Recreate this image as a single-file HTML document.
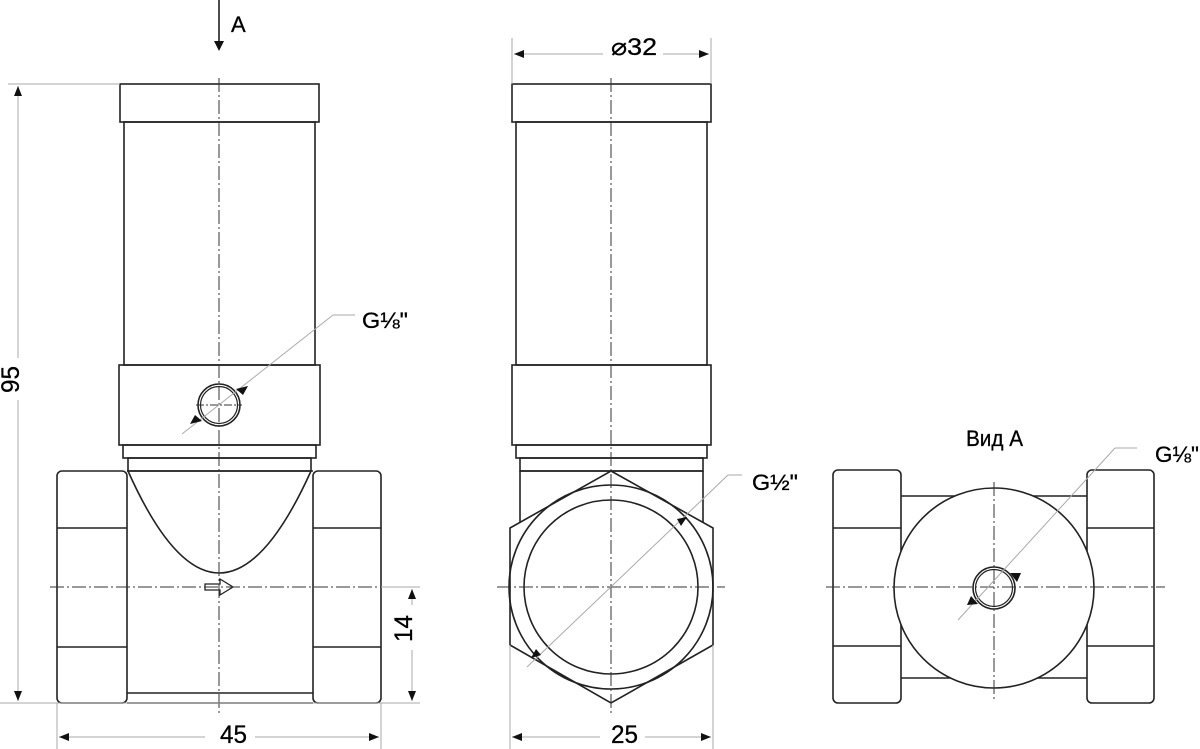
<!DOCTYPE html>
<html><head><meta charset="utf-8"><style>
html,body{margin:0;padding:0;background:#fff;width:1200px;height:749px;overflow:hidden}
svg{display:block}
text{font-family:"Liberation Sans Narrow","Liberation Sans",sans-serif;fill:#000;stroke:#000;stroke-width:0.3}
</style></head><body>
<svg width="1200" height="749" viewBox="0 0 1200 749" xmlns="http://www.w3.org/2000/svg">
<defs>
<marker id="ah" viewBox="0 0 10 10" refX="10" refY="5" markerWidth="14" markerHeight="10" markerUnits="userSpaceOnUse" orient="auto-start-reverse"><path d="M0,1 L10,5 L0,9 z" fill="#111"/></marker>
</defs>
<g fill="none" stroke="#222" stroke-width="1.6">
<rect x="120" y="84" width="199" height="38"/>
<rect x="124" y="122" width="191" height="243"/>
<rect x="119" y="365" width="201" height="80"/>
<rect x="123" y="445" width="193" height="13"/>
<rect x="128" y="458" width="183" height="13"/>
<line x1="127" y1="471" x2="313" y2="471"/>
<line x1="127" y1="693" x2="313" y2="693"/>
<line x1="127" y1="703" x2="313" y2="703"/>
<path d="M128,471 Q219,675 311,471"/>
<rect x="57" y="471" width="70" height="232" rx="5"/>
<line x1="57" y1="528" x2="127" y2="528"/><line x1="57" y1="647" x2="127" y2="647"/>
<rect x="313" y="471" width="68" height="232" rx="5"/>
<line x1="313" y1="528" x2="381" y2="528"/><line x1="313" y1="647" x2="381" y2="647"/>
<circle cx="219" cy="405" r="21"/><circle cx="219" cy="405" r="18.5" stroke-width="1.2"/>
<path d="M205,584 h15 v-5 l13,8 l-13,8 v-5 h-15 z" stroke-width="1.3"/>
<rect x="512" y="84" width="199" height="38"/>
<rect x="516" y="122" width="191" height="243"/>
<rect x="512" y="365" width="199" height="80"/>
<rect x="516" y="445" width="191" height="13"/>
<rect x="520" y="458" width="183" height="13"/>
<line x1="520" y1="471" x2="520" y2="523"/><line x1="703" y1="471" x2="703" y2="523"/>
<line x1="520" y1="471" x2="703" y2="471"/>
<polygon points="611,471 713,528 713,645 611,703 510,645 510,528" fill="#fff"/>
<circle cx="611" cy="587" r="102"/>
<circle cx="611" cy="587" r="87"/>
<line x1="901" y1="496" x2="1087" y2="496"/><line x1="901" y1="678" x2="1087" y2="678"/>
<rect x="833" y="470" width="68" height="233" rx="5"/>
<line x1="833" y1="528" x2="901" y2="528"/><line x1="833" y1="646" x2="901" y2="646"/>
<rect x="1087" y="470" width="67" height="233" rx="5"/>
<line x1="1087" y1="528" x2="1154" y2="528"/><line x1="1087" y1="646" x2="1154" y2="646"/>
<circle cx="994" cy="588" r="100" fill="#fff"/>
<circle cx="994" cy="588" r="21"/><circle cx="994" cy="588" r="18.5" stroke-width="1.2"/>
</g>
<g stroke="#333" stroke-width="1" stroke-dasharray="14,3,2,3" fill="none">
<line x1="219" y1="78" x2="219" y2="715"/>
<line x1="50" y1="587" x2="420" y2="587"/>
<line x1="196" y1="405" x2="242" y2="405" stroke-dasharray="8,2,2,2"/>
<line x1="611" y1="78" x2="611" y2="715"/>
<line x1="497" y1="587" x2="725" y2="587"/>
<line x1="994" y1="482" x2="994" y2="700"/>
<line x1="826" y1="587" x2="1165" y2="587"/>
</g>
<g stroke="#aaa" stroke-width="1" fill="none">
<line x1="8" y1="84" x2="120" y2="84"/>
<line x1="0" y1="703" x2="420" y2="703"/>
<line x1="57" y1="703" x2="57" y2="749"/><line x1="381" y1="703" x2="381" y2="749"/>
<line x1="381" y1="587" x2="420" y2="587"/>
<line x1="512" y1="38" x2="512" y2="84"/><line x1="711" y1="38" x2="711" y2="84"/>
<line x1="510" y1="645" x2="510" y2="749"/><line x1="713" y1="645" x2="713" y2="749"/>
<line x1="182" y1="434" x2="333" y2="315"/><line x1="333" y1="315" x2="355" y2="315"/>
<line x1="527" y1="667" x2="728" y2="475"/><line x1="728" y1="475" x2="742" y2="475"/>
<line x1="958" y1="620" x2="1115" y2="448"/><line x1="1115" y1="448" x2="1137" y2="448"/>
</g>
<g stroke="#aaa" stroke-width="1">
<line x1="18" y1="86" x2="18" y2="358" marker-start="url(#ah)"/>
<line x1="18" y1="400" x2="18" y2="701" marker-end="url(#ah)"/>
<line x1="59" y1="737" x2="205" y2="737" marker-start="url(#ah)"/>
<line x1="255" y1="737" x2="379" y2="737" marker-end="url(#ah)"/>
<line x1="412" y1="589" x2="412" y2="605" marker-start="url(#ah)"/>
<line x1="412" y1="650" x2="412" y2="701" marker-end="url(#ah)"/>
<line x1="514" y1="54" x2="603" y2="54" marker-start="url(#ah)"/>
<line x1="663" y1="54" x2="709" y2="54" marker-end="url(#ah)"/>
<line x1="512" y1="737" x2="600" y2="737" marker-start="url(#ah)"/>
<line x1="645" y1="737" x2="711" y2="737" marker-end="url(#ah)"/>
</g>
<g fill="#111">
<path d="M236,389 l12,-3 l-5,9 z"/>
<path d="M202,421 l-12,3 l5,-9 z"/>
<path d="M677,519 l10,-2 l-6,9 z"/>
<path d="M541,655 l-10,3 l5,-9 z"/>
<path d="M1010,573 l11,0 l-4,9 z"/>
<path d="M978,604 l-11,1 l4,-9 z"/>
</g>
<line x1="219" y1="0" x2="219" y2="44" stroke="#111" stroke-width="1.5"/>
<path d="M214,41 L224,41 L219,51 z" fill="#111"/>
<text x="231" y="32" font-size="22">A</text>
<text x="362" y="328" font-size="22" textLength="46" lengthAdjust="spacingAndGlyphs">G⅛"</text>
<text x="752" y="490" font-size="22" textLength="46" lengthAdjust="spacingAndGlyphs">G½"</text>
<text x="1155" y="462" font-size="22" textLength="44" lengthAdjust="spacingAndGlyphs">G⅛"</text>
<text x="966" y="446" font-size="22" textLength="57" lengthAdjust="spacingAndGlyphs">Вид А</text>
<text x="611" y="55" font-size="24" textLength="46" lengthAdjust="spacingAndGlyphs">⌀32</text>
<text x="220" y="743" font-size="25" textLength="27" lengthAdjust="spacingAndGlyphs">45</text>
<text x="611" y="743" font-size="25" textLength="27" lengthAdjust="spacingAndGlyphs">25</text>
<text transform="translate(19,393) rotate(-90)" font-size="25" textLength="27" lengthAdjust="spacingAndGlyphs">95</text>
<text transform="translate(412,642) rotate(-90)" font-size="25" textLength="27" lengthAdjust="spacingAndGlyphs">14</text>
</svg>
</body></html>
